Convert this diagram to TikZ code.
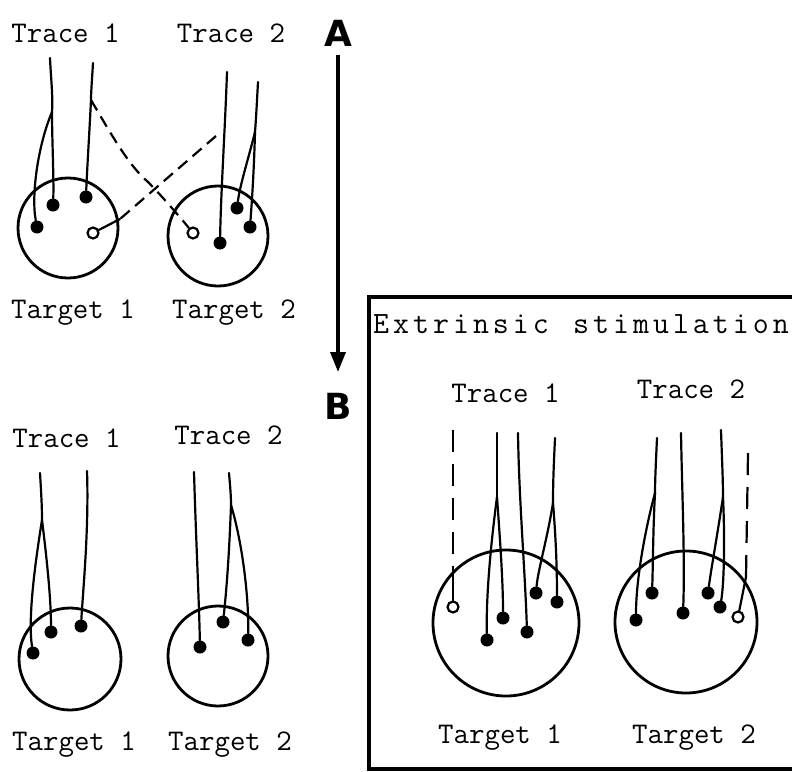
\documentclass[tikz,border=0pt]{standalone}
\usepackage{fontspec}
\usetikzlibrary{arrows.meta}
\newfontfamily\heavyfont{DejaVu Sans}
\newcommand\lsp{\kern4pt}
\tikzset{
  fiber/.style={line width=2.2pt, line cap=round, line join=round},
  dfiber/.style={line width=2.2pt, dash pattern=on 12pt off 7pt},
  vdfiber/.style={line width=2.2pt, dash pattern=on 22pt off 12pt},
  dot/.style={circle, fill=black, inner sep=0pt, minimum size=13pt},
  odot/.style={circle, draw, line width=2.2pt, fill=white, inner sep=0pt, minimum size=11pt},
  target/.style={circle, draw, line width=2.8pt, inner sep=0pt},
  lab/.style={font=\ttfamily\fontsize{30}{30}\selectfont, inner sep=0pt, anchor=base},
  title/.style={font=\ttfamily\fontsize{31}{31}\selectfont, inner sep=0pt, anchor=base west},
  letter/.style={font=\heavyfont\bfseries\fontsize{36}{36}\selectfont, inner sep=0pt},
}
\begin{document}
\begin{tikzpicture}[x=1pt,y=-1pt]
\useasboundingbox (0,0) rectangle (792,771);

% ---------------- Panel A ----------------
\node[lab] (tA1) at (65.5,42) {Trace 1};
\node[lab] (tA2) at (231,42) {Trace 2};
\node[lab] (gA1) at (73,318) {Target 1};
\node[lab] (gA2) at (234,318) {Target 2};
\node[target, minimum size=100pt] (C1) at (68,228) {};
\node[target, minimum size=100pt] (C2) at (218,236) {};

\node[dot] (d11) at (37,227) {};
\node[dot] (d12) at (53,205) {};
\node[dot] (d13) at (86,197) {};
\node[odot] (o14) at (93,233) {};
\node[odot] (o24) at (193,233) {};
\node[dot] (d23) at (220,243) {};
\node[dot] (d21) at (237,208) {};
\node[dot] (d22) at (250,227) {};

\coordinate (T1a) at (50,58);
\coordinate (B1) at (52,112);
\coordinate (T1b) at (93,63);
\coordinate (J1) at (91,100);
\coordinate (K1) at (148,182);
\coordinate (K2) at (184,222);
\coordinate (T2a) at (227,72);
\coordinate (T2b) at (258,82);
\coordinate (B2) at (255,132);
\coordinate (J2) at (216,136);
\coordinate (K3) at (120,219);

\draw[fiber] (T1a) .. controls (51,80) and (53,95) .. (B1);
\draw[fiber] (B1) .. controls (38,145) and (31,195) .. (d11);
\draw[fiber] (B1) .. controls (52,140) and (54,180) .. (d12);
\draw[fiber] (T1b) .. controls (92,80) and (91,92) .. (J1);
\draw[fiber] (J1) .. controls (89,140) and (87,170) .. (d13);
\draw[dfiber] (J1) .. controls (110,132) and (128,165) .. (K1) .. controls (158,192) and (172,208) .. (K2);
\draw[fiber] (K2) -- (o24);
\draw[fiber] (T2a) .. controls (225,130) and (221,190) .. (d23);
\draw[fiber] (T2b) .. controls (257,100) and (256,120) .. (B2);
\draw[fiber] (B2) .. controls (248,160) and (240,185) .. (d21);
\draw[fiber] (B2) .. controls (254,170) and (252,200) .. (d22);
\draw[dfiber] (J2) -- (K3);
\draw[fiber] (K3) -- (o14);

% Arrow and letters
\node[letter] (LA) at (338,33) {A};
\node[letter] (LB) at (338,406) {B};
\coordinate (ArS) at (338,55);
\coordinate (ArE) at (338,372);
\draw[line width=3.4pt, -{Triangle[length=20pt,width=15pt]}] (ArS) -- (ArE);

% ---------------- Panel B left ----------------
\node[lab] (tB1) at (66.5,447) {Trace 1};
\node[lab] (tB2) at (228.5,444) {Trace 2};
\node[lab] (gB1) at (74,750) {Target 1};
\node[lab] (gB2) at (230,750) {Target 2};
\node[target, minimum size=102pt] (C3) at (70,659) {};
\node[target, minimum size=100pt] (C4) at (218,656) {};

\node[dot] (d31) at (33,653) {};
\node[dot] (d32) at (51,632) {};
\node[dot] (d33) at (81,626) {};
\node[dot] (d41) at (200,647) {};
\node[dot] (d42) at (223,622) {};
\node[dot] (d43) at (248,640) {};

\coordinate (T3a) at (40,473);
\coordinate (B3) at (42,520);
\coordinate (T3b) at (87,471);
\coordinate (T4a) at (194,472);
\coordinate (T4b) at (229,473);
\coordinate (B4) at (231,505);

\draw[fiber] (T3a) .. controls (41,490) and (42,505) .. (B3);
\draw[fiber] (B3) .. controls (34,570) and (28,620) .. (d31);
\draw[fiber] (B3) .. controls (47,560) and (51,600) .. (d32);
\draw[fiber] (T3b) .. controls (89,530) and (83,590) .. (d33);
\draw[fiber] (T4a) .. controls (196,540) and (199,600) .. (d41);
\draw[fiber] (T4b) .. controls (230,485) and (231,495) .. (B4);
\draw[fiber] (B4) .. controls (229,560) and (226,595) .. (d42);
\draw[fiber] (B4) .. controls (243,545) and (249,600) .. (d43);

% ---------------- Panel B box ----------------
\draw[line width=4pt] (800,297) -- (369,297) -- (369,769) -- (800,769);
\node[title] (ttl) at (373,333) {E\lsp x\lsp t\lsp r\lsp i\lsp n\lsp s\lsp i\lsp c\lsp\kern16.3pt\lsp s\lsp t\lsp i\lsp m\lsp u\lsp l\lsp a\lsp t\lsp i\lsp o\lsp n};
\node[lab] (tC1) at (505.5,402) {Trace 1};
\node[lab] (tC2) at (691,398) {Trace 2};
\node[lab] (gC1) at (500,743) {Target 1};
\node[lab] (gC2) at (694,743) {Target 2};
\node[target, minimum size=146pt] (C5) at (506,623) {};
\node[target, minimum size=142pt] (C6) at (686,622) {};

\node[odot] (o51) at (453,607) {};
\node[dot] (d52) at (487,640) {};
\node[dot] (d53) at (503,618) {};
\node[dot] (d54) at (527,632) {};
\node[dot] (d55) at (536,593) {};
\node[dot] (d56) at (557,602) {};

\coordinate (D5a) at (453,430);
\coordinate (D5b) at (453,572);
\coordinate (T5a) at (497,433);
\coordinate (B5) at (497,497);
\coordinate (T5b) at (518,433);
\coordinate (T5c) at (555,438);
\coordinate (B6) at (553,503);

\draw[vdfiber] (D5a) -- (D5b);
\draw[fiber] (D5b) -- (o51);
\draw[fiber] (T5a) .. controls (497,460) and (497,480) .. (B5);
\draw[fiber] (B5) .. controls (490,550) and (486,600) .. (d52);
\draw[fiber] (B5) .. controls (500,540) and (503,580) .. (d53);
\draw[fiber] (T5b) .. controls (519,500) and (525,570) .. (d54);
\draw[fiber] (T5c) .. controls (554,460) and (553,480) .. (B6);
\draw[fiber] (B6) .. controls (547,540) and (538,570) .. (d55);
\draw[fiber] (B6) .. controls (556,540) and (557,570) .. (d56);

\node[dot] (d61) at (636,620) {};
\node[dot] (d62) at (652,593) {};
\node[dot] (d63) at (683,613) {};
\node[dot] (d64) at (708,593) {};
\node[dot] (d65) at (720,607) {};
\node[odot] (o66) at (738,617) {};

\coordinate (T6a) at (657,438);
\coordinate (B7) at (655,493);
\coordinate (T6b) at (681,433);
\coordinate (T6c) at (721,430);
\coordinate (B8) at (723,497);
\coordinate (D6a) at (748,453);
\coordinate (D6b) at (746,577);

\draw[fiber] (T6a) .. controls (656,460) and (655,480) .. (B7);
\draw[fiber] (B7) .. controls (645,530) and (636,580) .. (d61);
\draw[fiber] (B7) .. controls (653,530) and (653,565) .. (d62);
\draw[fiber] (T6b) .. controls (682,490) and (685,560) .. (d63);
\draw[fiber] (T6c) .. controls (722,460) and (723,480) .. (B8);
\draw[fiber] (B8) .. controls (717,537) and (711,570) .. (d64);
\draw[fiber] (B8) .. controls (725,540) and (724,585) .. (d65);
\draw[vdfiber] (D6a) -- (D6b);
\draw[fiber] (D6b) -- (o66);
\end{tikzpicture}
\end{document}
